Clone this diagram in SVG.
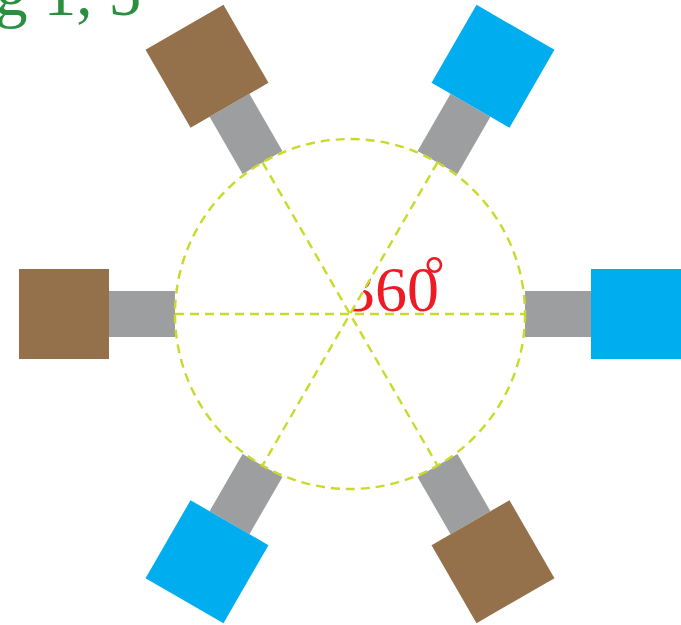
<svg xmlns="http://www.w3.org/2000/svg" width="681" height="625" viewBox="0 0 681 625">
<style>
.dash{fill:none;stroke:#c9da2b;stroke-width:2.4;stroke-dasharray:9 6}
.stem{fill:#9d9ea0}
.brown{fill:#94714a}
.blue{fill:#00adee}
.lbl{font-family:"Liberation Serif","Times New Roman",serif}
</style>
<defs>
<clipPath id="clip360"><polygon points="350,314 416,200 520,200 520,330 340.8,330"/></clipPath>
</defs>
<rect width="681" height="625" fill="#fff"/>
<text class="lbl" x="-5" y="15" font-size="65" fill="#2a9040">g 1, 5</text>
<g id="arm-left" transform="translate(350 314) rotate(180)"><rect class="stem" x="175" y="-23" width="66" height="46"/><rect class="brown" x="241" y="-45" width="90" height="90"/></g>
<g id="arm-top-left" transform="translate(350 314) rotate(-120)"><rect class="stem" x="175" y="-23" width="66" height="46"/><rect class="brown" x="241" y="-45" width="90" height="90"/></g>
<g id="arm-top-right" transform="translate(350 314) rotate(-60)"><rect class="stem" x="175" y="-23" width="66" height="46"/><rect class="blue" x="241" y="-45" width="90" height="90"/></g>
<g id="arm-right" transform="translate(350 314)"><rect class="stem" x="175" y="-23" width="66" height="46"/><rect class="blue" x="241" y="-45" width="90" height="90"/></g>
<g id="arm-bottom-right" transform="translate(350 314) rotate(60)"><rect class="stem" x="175" y="-23" width="66" height="46"/><rect class="brown" x="241" y="-45" width="90" height="90"/></g>
<g id="arm-bottom-left" transform="translate(350 314) rotate(120)"><rect class="stem" x="175" y="-23" width="66" height="46"/><rect class="blue" x="241" y="-45" width="90" height="90"/></g>
<g id="label-360" clip-path="url(#clip360)"><text class="lbl" x="343" y="311" font-size="64" fill="#ed1c24">360<tspan x="424" y="292" font-size="52">°</tspan></text></g>
<g id="connectors">
<circle class="dash" cx="350" cy="314" r="175"/>
<line class="dash" x1="175" y1="314" x2="525" y2="314"/>
<line class="dash" x1="262.5" y1="162.4" x2="437.5" y2="465.6"/>
<line class="dash" x1="437.5" y1="162.4" x2="262.5" y2="465.6"/>
</g>
</svg>
